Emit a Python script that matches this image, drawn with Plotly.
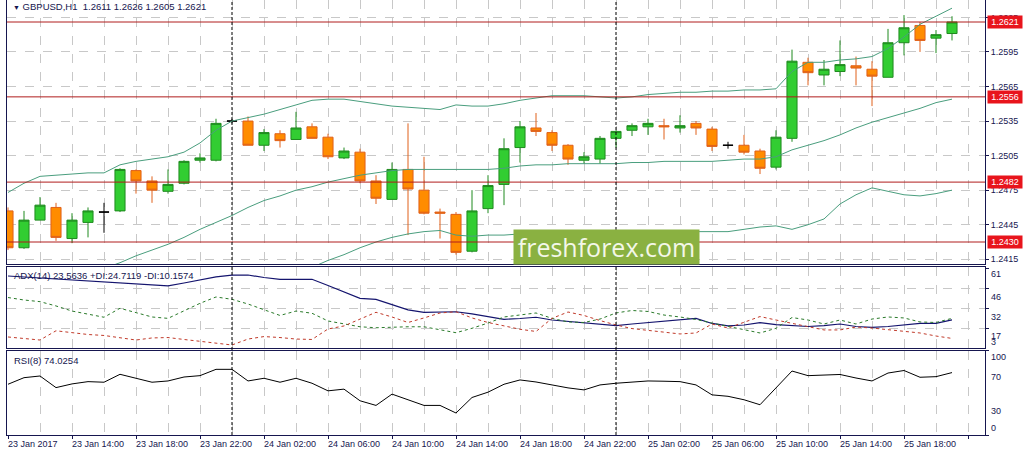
import pandas as pd
import plotly.graph_objects as go
from plotly.subplots import make_subplots

# GBPUSD H1 bars, 23 Jan 2017 10:00 -> 25 Jan 2017 21:00
opens = [1.2457, 1.2425, 1.2449, 1.2460, 1.2433, 1.2447, 1.2456, 1.2457, 1.2492, 1.2483,
         1.2474, 1.2481, 1.2501, 1.2501, 1.2535, 1.2535, 1.2514, 1.2524, 1.2519, 1.2530,
         1.2521, 1.2503, 1.2508, 1.2483, 1.2467, 1.2493, 1.2475, 1.2456, 1.2454, 1.2422,
         1.2459, 1.2480, 1.2512, 1.2529, 1.2525, 1.2514, 1.2501, 1.2502, 1.2520, 1.2527,
         1.2530, 1.2531, 1.2529, 1.2533, 1.2528, 1.2514, 1.2514, 1.2509, 1.2495, 1.2520,
         1.2586, 1.2575, 1.2578, 1.2583, 1.2580, 1.2573, 1.2603, 1.2618, 1.2607, 1.2611]
highs = [1.2460, 1.2457, 1.2469, 1.2464, 1.2455, 1.2460, 1.2464, 1.2494, 1.2493, 1.2487,
         1.2493, 1.2501, 1.2507, 1.2537, 1.2537, 1.2539, 1.2528, 1.2527, 1.2543, 1.2533,
         1.2524, 1.2512, 1.2511, 1.2488, 1.2499, 1.2533, 1.2504, 1.2459, 1.2456, 1.2475,
         1.2488, 1.2520, 1.2535, 1.2542, 1.2527, 1.2515, 1.2508, 1.2522, 1.2527, 1.2533,
         1.2537, 1.2537, 1.2540, 1.2535, 1.2530, 1.2517, 1.2523, 1.2511, 1.2527, 1.2597,
         1.2590, 1.2588, 1.2605, 1.2591, 1.2587, 1.2615, 1.2627, 1.2621, 1.2614, 1.2626]
lows = [1.2423, 1.2424, 1.2449, 1.2431, 1.2429, 1.2434, 1.2438, 1.2456, 1.2472, 1.2464,
        1.2472, 1.2480, 1.2499, 1.2500, 1.2533, 1.2514, 1.2509, 1.2512, 1.2519, 1.2520,
        1.2502, 1.2502, 1.2481, 1.2463, 1.2467, 1.2436, 1.2454, 1.2433, 1.2419, 1.2421,
        1.2455, 1.2462, 1.2499, 1.2522, 1.2509, 1.2497, 1.2498, 1.2498, 1.2512, 1.2522,
        1.2523, 1.2519, 1.2525, 1.2523, 1.2509, 1.2511, 1.2506, 1.2489, 1.2493, 1.2517,
        1.2566, 1.2566, 1.2574, 1.2566, 1.2548, 1.2573, 1.2592, 1.2595, 1.2594, 1.2605]
closes = [1.2425, 1.2449, 1.2462, 1.2434, 1.2449, 1.2457, 1.2456, 1.2493, 1.2483, 1.2475,
          1.2480, 1.2500, 1.2503, 1.2533, 1.2535, 1.2514, 1.2525, 1.2518, 1.2529, 1.2520,
          1.2504, 1.2509, 1.2483, 1.2468, 1.2493, 1.2476, 1.2455, 1.2455, 1.2421, 1.2457,
          1.2479, 1.2511, 1.2530, 1.2526, 1.2514, 1.2502, 1.2504, 1.2520, 1.2526, 1.2531,
          1.2533, 1.2530, 1.2531, 1.2529, 1.2513, 1.2514, 1.2508, 1.2494, 1.2521, 1.2587,
          1.2577, 1.2580, 1.2584, 1.2581, 1.2574, 1.2603, 1.2616, 1.2605, 1.2610, 1.2621]

# bands (None = not drawn / below the window)
bb_upper = [1.2473, 1.2481, 1.2487, 1.2488, 1.2489, 1.2490, 1.2490, 1.2497, 1.2500, 1.2502,
            1.2504, 1.2508, 1.2516, 1.2527, 1.2535, 1.2538, 1.2541, 1.2545, 1.2549, 1.2553,
            1.2554, 1.2554, 1.2552, 1.2550, 1.2548, 1.2547, 1.2546, 1.2545, 1.2549, 1.2548,
            1.2548, 1.2550, 1.2553, 1.2555, 1.2557, 1.2557, 1.2557, 1.2556, 1.2555, 1.2556,
            1.2558, 1.2559, 1.2560, 1.2560, 1.2561, 1.2561, 1.2562, 1.2562, 1.2563, 1.2578,
            1.2586, 1.2586, 1.2588, 1.2589, 1.2591, 1.2598, 1.2608, 1.2619, 1.2626, 1.2633]
bb_middle = [None, None, None, None, None, None, 1.2407, 1.2412, 1.2418, 1.2423,
             1.2428, 1.2434, 1.2441, 1.2447, 1.2453, 1.2460, 1.2466, 1.2470, 1.2475, 1.2478,
             1.2482, 1.2485, 1.2488, 1.2490, 1.2492, 1.2493, 1.2493, 1.2493, 1.2493, 1.2493,
             1.2493, 1.2494, 1.2496, 1.2497, 1.2497, 1.2498, 1.2498, 1.2498, 1.2498, 1.2499,
             1.2499, 1.2500, 1.2500, 1.2500, 1.2500, 1.2501, 1.2502, 1.2502, 1.2504, 1.2510,
             1.2514, 1.2518, 1.2523, 1.2529, 1.2534, 1.2538, 1.2542, 1.2546, 1.2551, 1.2554]
bb_lower = [None] * 19 + [
             1.2408,
             1.2414, 1.2419, 1.2425, 1.2430, 1.2434, 1.2437, 1.2439, 1.2440, 1.2436, 1.2435,
             1.2436, 1.2436, 1.2437, 1.2437, 1.2438, 1.2438, 1.2438, 1.2438, 1.2438, 1.2438,
             1.2438, 1.2438, 1.2439, 1.2439, 1.2439, 1.2439, 1.2441, 1.2443, 1.2444, 1.2441,
             1.2445, 1.2450, 1.2463, 1.2471, 1.2477, 1.2474, 1.2471, 1.2470, 1.2472, 1.2475]

adx = [55.4, 54.7, 54.0, 53.2, 52.2, 51.8, 51.1, 50.3, 49.6, 48.9,
       48.2, 50.3, 52.5, 54.7, 56.1, 56.1, 54.3, 53.0, 53.0, 53.0,
       48.5, 43.8, 39.2, 38.5, 34.4, 30.8, 29.0, 29.5, 29.5, 27.9,
       25.7, 24.0, 24.6, 25.5, 23.5, 22.4, 21.6, 20.2, 19.4, 20.6,
       21.7, 22.8, 23.9, 24.7, 21.0, 19.2, 19.9, 21.6, 20.2, 19.5,
       18.8, 19.5, 20.6, 18.8, 18.1, 18.8, 19.9, 21.1, 21.1, 23.56]
plus_di = [39.8, 38.0, 36.8, 33.7, 30.0, 27.9, 25.5, 32.0, 29.0, 25.7,
           24.7, 30.0, 35.6, 40.2, 38.5, 35.1, 31.1, 26.8, 30.0, 28.4,
           22.8, 20.6, 18.6, 17.9, 18.4, 18.6, 18.6, 16.3, 14.3, 17.5,
           21.3, 25.7, 27.1, 28.6, 24.7, 22.1, 21.7, 24.2, 28.6, 30.4,
           29.7, 27.1, 25.7, 23.9, 21.3, 18.8, 16.6, 14.1, 17.5, 25.3,
           23.5, 20.6, 23.5, 20.6, 24.2, 25.7, 25.0, 22.1, 21.7, 24.71]
minus_di = [11.2, 10.1, 9.0, 15.7, 14.1, 13.0, 12.3, 10.8, 9.0, 10.5,
            10.8, 9.4, 7.9, 6.5, 5.4, 9.7, 11.5, 10.8, 9.7, 9.4,
            17.0, 19.2, 24.2, 29.1, 25.7, 21.7, 25.0, 28.6, 29.5, 25.0,
            21.7, 19.2, 16.8, 15.2, 24.7, 29.3, 26.8, 23.1, 19.9, 17.3,
            15.9, 14.8, 13.4, 14.1, 20.6, 17.7, 22.1, 26.0, 23.5, 21.0,
            18.8, 16.3, 16.3, 18.4, 17.7, 16.6, 15.5, 14.1, 11.9, 10.16]
rsi = [60.2, 68.0, 70.0, 56.2, 60.6, 63.3, 62.6, 72.0, 67.3, 62.6,
       64.1, 68.8, 70.4, 77.9, 77.9, 64.1, 67.3, 62.6, 67.3, 61.4,
       52.4, 54.4, 40.6, 35.1, 48.5, 41.8, 35.1, 35.1, 26.1, 44.5,
       50.8, 60.2, 65.3, 62.9, 59.4, 55.9, 53.5, 59.4, 61.4, 62.9,
       64.1, 63.8, 63.3, 59.4, 47.6, 45.9, 41.8, 35.9, 55.9, 75.9,
       70.4, 71.4, 71.8, 67.6, 64.1, 73.5, 76.5, 68.5, 69.2, 74.03]

levels = [1.2621, 1.2556, 1.2482, 1.2430]
rsi_levels = [70, 30]
price_ticks = [1.2415, 1.2445, 1.2475, 1.2505, 1.2535, 1.2565, 1.2595, 1.2625]
adx_labels = ["61", "46", "32", "17", "3"]
adx_ticks = [61, 46, 32, 17]
rsi_labels = ["100", "70", "30", "0"]
day_breaks = ["2017-01-24 00:00", "2017-01-25 00:00"]
time_labels = ["23 Jan 2017", "23 Jan 14:00", "23 Jan 18:00", "23 Jan 22:00",
               "24 Jan 02:00", "24 Jan 06:00", "24 Jan 10:00", "24 Jan 14:00",
               "24 Jan 18:00", "24 Jan 22:00", "25 Jan 02:00", "25 Jan 06:00",
               "25 Jan 10:00", "25 Jan 14:00", "25 Jan 18:00"]

times = pd.date_range("2017-01-23 10:00", periods=len(closes), freq="h")
HOUR = pd.Timedelta(hours=1)

NAVY = "#16164f"
GRID = "#c8c8c8"
BAND = "#4a9e7e"
FONT = "Liberation Sans, Arial, sans-serif"

# plot area in screen pixels
L, R, T, B = 7, 985, 0, 435


def px(x):
    return (x - L) / (R - L)


def py(y):
    return (B - y) / (B - T)


fig = make_subplots(rows=3, cols=1, shared_xaxes=True, vertical_spacing=0.01)

# bollinger bands
for band in (bb_upper, bb_middle, bb_lower):
    fig.add_trace(go.Scatter(x=times, y=band, mode="lines",
                             line=dict(color=BAND, width=1), hoverinfo="skip"),
                  row=1, col=1)

# candles: bull / bear / doji drawn separately so each keeps its colour
groups = [
    ([i for i in range(len(closes)) if closes[i] > opens[i]], "#32cd32", "#1f8a1f"),
    ([i for i in range(len(closes)) if closes[i] < opens[i]], "#ff8c00", "#e0601a"),
    ([i for i in range(len(closes)) if closes[i] == opens[i]], "#000000", "#000000"),
]
for idx, fill, edge in groups:
    style = dict(fillcolor=fill, line=dict(color=edge, width=1))
    fig.add_trace(go.Candlestick(
        x=[times[i] for i in idx],
        open=[opens[i] for i in idx], high=[highs[i] for i in idx],
        low=[lows[i] for i in idx], close=[closes[i] for i in idx],
        increasing=style, decreasing=style, whiskerwidth=0,
    ), row=1, col=1)

for lvl in levels:
    fig.add_hline(y=lvl, line=dict(color="#b01c1c", width=1), row=1, col=1)

# ADX(14)
fig.add_trace(go.Scatter(x=times, y=adx, mode="lines",
                         line=dict(color="#14146e", width=1.2)), row=2, col=1)
fig.add_trace(go.Scatter(x=times, y=plus_di, mode="lines",
                         line=dict(color="#2a7a2a", width=1, dash="3px,3px")), row=2, col=1)
fig.add_trace(go.Scatter(x=times, y=minus_di, mode="lines",
                         line=dict(color="#c03a2a", width=1, dash="3px,3px")), row=2, col=1)

# RSI(8)
for lvl in rsi_levels:
    fig.add_hline(y=lvl, line=dict(color="#c83030", width=1, dash="3px,3px"), row=3, col=1)
fig.add_trace(go.Scatter(x=times, y=rsi, mode="lines",
                         line=dict(color="#000000", width=1)), row=3, col=1)

# day separators
for d in day_breaks:
    fig.add_shape(type="line", xref="x", yref="paper", x0=d, x1=d, y0=0, y1=1,
                  line=dict(color="#000000", width=1, dash="3px,2px"))

grid_x = dict(showgrid=True, gridcolor=GRID, griddash="dash", gridwidth=1,
              tick0=times[0], dtick=4 * 3600000,
              minor=dict(showgrid=True, gridcolor=GRID, griddash="dash",
                         tick0=times[0], dtick=2 * 3600000),
              showline=True, linecolor=NAVY, linewidth=1,
              range=[times[0] - HOUR / 16, times[0] + HOUR * 61.0625],
              rangeslider=dict(visible=False), showticklabels=False, zeroline=False)

fig.update_layout(
    width=1027, height=457,
    margin=dict(l=L, r=1027 - R, t=T, b=457 - B),
    paper_bgcolor="white", plot_bgcolor="white",
    showlegend=False, boxgap=0.1,
    font=dict(family=FONT, size=9, color=NAVY),
    xaxis=dict(grid_x, ticks=""),
    xaxis2=dict(grid_x, ticks="", mirror=True),
    xaxis3=dict(grid_x, ticks="outside", ticklen=3, tickcolor=NAVY, mirror=True),
    yaxis=dict(domain=[py(264), 1], range=[1.24109, 1.26401], side="right",
               tickvals=price_ticks, ticktext=[f"{v:.4f}" for v in price_ticks],
               ticks="outside", ticklen=3, tickcolor=NAVY,
               showgrid=True, gridcolor=GRID, griddash="dash",
               showline=True, mirror=True, linecolor=NAVY, zeroline=False),
    yaxis2=dict(domain=[py(348.3), py(267.3)], range=[3, 61.7], side="right",
                tickvals=adx_ticks, showticklabels=False,
                ticks="outside", ticklen=3, tickcolor=NAVY,
                showgrid=True, gridcolor=GRID, griddash="dash",
                showline=True, mirror=True, linecolor=NAVY, zeroline=False),
    yaxis3=dict(domain=[0, py(350.7)], range=[0, 100], side="right",
                tickvals=[100, 0], showticklabels=False,
                ticks="outside", ticklen=3, tickcolor=NAVY, showgrid=False,
                showline=True, mirror=True, linecolor=NAVY, zeroline=False),
)

ann = []
# indicator captions
ann.append(dict(x=px(11), y=py(7), text="<span style='font-size:7px'>\u25bc</span> "
                "GBPUSD,H1\u00a0\u00a01.2611 1.2626 1.2605 1.2621"))
ann.append(dict(x=px(12), y=py(275), text="ADX(14) 23.5636 +DI:24.7119 -DI:10.1574"))
ann.append(dict(x=px(12), y=py(360), text="RSI(8) 74.0254"))
for a in ann:
    a.update(xref="paper", yref="paper", xanchor="left", yanchor="middle",
             showarrow=False, font=dict(size=9.5, color=NAVY))

# level price boxes on the right axis
for lvl in levels:
    ann.append(dict(xref="paper", yref="y", x=px(987), y=lvl, xanchor="left",
                    yanchor="middle", text=f"{lvl:.4f}", showarrow=False,
                    bgcolor="#e8141c", borderpad=1, width=32,
                    font=dict(size=9, color="white")))

# sub-window scale labels
for lab, ypix in zip(adx_labels, [274.3, 296.7, 316.7, 335.7, 341.7]):
    ann.append(dict(xref="paper", yref="paper", x=px(989), y=py(ypix), text=lab,
                    xanchor="left", yanchor="middle", showarrow=False,
                    font=dict(size=9, color=NAVY)))
for lab, ypix in zip(rsi_labels, [357.3, 376.7, 410.7, 428.3]):
    ann.append(dict(xref="paper", yref="paper", x=px(989), y=py(ypix), text=lab,
                    xanchor="left", yanchor="middle", showarrow=False,
                    font=dict(size=9, color=NAVY)))

# time axis labels, left-aligned at their bar
for k, lab in enumerate(time_labels):
    ann.append(dict(xref="x", yref="paper", x=times[4 * k], y=py(444), text=lab,
                    xanchor="left", yanchor="middle", showarrow=False, xshift=-2,
                    font=dict(size=9, color=NAVY)))

# watermark
ann.append(dict(xref="paper", yref="paper", x=px(512.7), y=py(229), xanchor="left",
                yanchor="top", text="freshforex.com", showarrow=False,
                bgcolor="#8ab141", borderpad=0, width=185, height=34,
                font=dict(family="Open Sans, sans-serif", size=25, color="#f3f7e8")))

fig.update_layout(annotations=ann)

fig.write_html("out.html", config={"displayModeBar": False},
               post_script="document.body.style.margin='0';"
               "document.body.style.overflow='hidden';")
